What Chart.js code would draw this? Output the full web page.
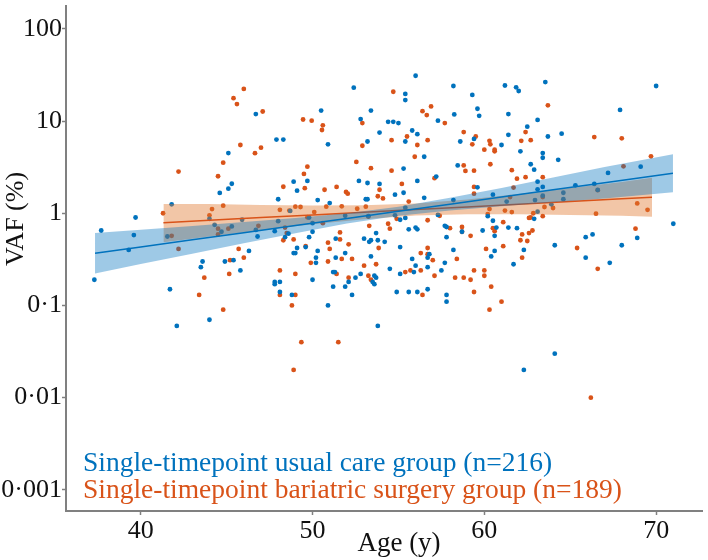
<!DOCTYPE html>
<html><head><meta charset="utf-8">
<script src="https://cdn.jsdelivr.net/npm/chart.js@4.4.1/dist/chart.umd.min.js"></script>
<style>html,body{margin:0;padding:0;background:#fff}#wrap{width:708px;height:560px}</style>
</head><body><div id="wrap"><canvas id="c" width="708" height="560"></canvas></div>
<script>
// ---- data ----
const seriesLabels = ['Single-timepoint usual care group (n=216)', 'Single-timepoint bariatric surgery group (n=189)'];
const xTitle = 'Age (y)';
const yTitle = 'VAF (%)';
const xTickValues = [40, 50, 60, 70];
const yTickValues = [0.001, 0.01, 0.1, 1, 10, 100];
const yTickLabels = ['0·001', '0·01', '0·1', '1', '10', '100'];

// [age, VAF %]
const usualCarePoints = [
[37.3,0.19],[37.7,0.65],[39.3,0.40],[39.6,0.58],[39.7,0.90],[41.8,1.25],[41.7,0.15],[42.1,0.06],[43.5,0.26],[43.6,0.30],[44.0,0.07],[44.9,0.30],[45.4,0.31],[45.8,0.24],[46.3,0.39],[46.8,0.56],[46.7,0.66],[47.8,0.18],[47.8,0.17],[48.1,0.18],[48.1,0.14],[48.8,0.13],[50.0,0.19],[50.9,0.10],[51.2,0.16],[51.9,0.16],[52.1,0.18],[52.3,0.13],[48.9,0.37],[49.0,0.37],[50.3,0.39],[50.2,0.33],[50.2,0.29],[51.2,0.23],[51.3,0.23],[51.9,0.37],[52.5,0.20],[52.8,0.22],[53.6,0.21],[53.7,0.20],[53.6,0.17],[53.5,0.18],[53.4,0.34],[53.8,0.06],[54.5,0.25],[54.9,0.14],[55.1,0.22],[55.9,0.23],[55.8,0.32],[56.0,0.27],[55.6,0.14],[56.1,0.14],[56.7,0.15],[56.7,0.26],[56.7,0.33],[57.5,0.24],[57.7,0.29],[57.8,0.13],[57.8,0.11],[58.2,0.40],[60.6,0.39],[60.4,0.34],[61.7,0.28],[62.3,0.40],[65.9,0.33],[67.3,0.29],[64.1,0.03],[62.3,0.02],[57.7,0.73],[57.8,0.71],[57.8,0.55],[56.8,0.36],[58.7,0.63],[59.9,0.65],[60.6,0.57],[60.7,0.70],[60.5,0.83],[60.2,0.93],[61.4,0.70],[61.9,0.69],[62.9,0.87],[64.1,0.45],[65.9,0.55],[66.3,0.59],[68.0,0.45],[68.9,0.54],[71.0,0.77],[48.4,0.55],[49.1,0.42],[49.8,0.55],[50.0,0.63],[49.8,0.90],[50.0,0.78],[51.35,0.53],[51.35,0.33],[51.9,0.94],[53.0,0.53],[53.3,0.49],[53.4,0.51],[53.8,0.51],[54.2,0.49],[53.25,0.93],[55.1,0.43],[55.1,0.85],[55.4,0.89],[55.6,0.67],[56.0,0.70],[56.1,0.67],[57.3,0.96],[53.7,0.61],[49.6,0.43],
[56.0,31],[52.4,23],[55.4,19.7],[55.4,16.9],[58.2,24],[59.3,19.2],[59.6,13.6],[59.7,11.4],[58.25,11.8],[57.3,10.1],[50.5,13],[52.8,10.5],[53.4,13],[54.4,9.8],[54.7,9.8],[55.0,9.5],[47.9,6.3],[48.3,6.3],[50.9,5.6],[53.9,7.5],[53.2,6.0],[55.8,7.9],[56.1,7.2],[55.4,6.0],[58.6,6.0],[59.4,6.4],[56.5,4.1],[58.45,3.3],[55.3,3.05],[57.2,2.5],[56.1,2.24],[52.7,2.24],[53.2,2.13],[53.9,2.08],[55.3,1.67],[54.8,1.59],[59.6,1.91],[50.3,1.39],[51.0,1.29],[53.1,1.42],[53.2,1.42],[56.5,1.47],[48.0,1.42],[49.7,2.24],[48.9,2.2],[49.1,1.76],[46.7,11.9],[45.1,4.5],[45.3,2.09],[45.1,1.85],[44.6,1.66],
[61.2,24.3],[61.85,23.2],[62.0,21.2],[63.55,26.5],[70.0,24],[67.9,13.2],[61.4,11.9],[63.1,10.3],[62.5,8.7],[61.4,7.1],[63.7,6.8],[64.5,7.3],[61.0,5.5],[62.1,4.7],[63.4,4.5],[63.4,4.0],[64.3,3.8],[62.7,3.4],[62.9,2.97],[69.1,3.2],[63.1,2.2],[63.1,1.82],[66.4,2.08],[66.6,1.79],[64.6,1.67],[62.95,1.39],[63.9,1.25],
[67.2,2.74],[63.4,1.93],[63.4,1.55],[65.3,2.01],[64.6,1.42],[60.5,1.59],[61.3,1.34],[63.1,1.04],[58.2,1.39],[55.4,1.15],[54.8,0.95],[48.0,0.82],[41.55,0.56],[44.0,0.87],[44.3,0.75],[44.7,0.63],[45.3,0.72],[45.9,0.85],[47.8,0.64],[48.6,0.60],[48.7,1.06]
];
const bariatricPoints = [
[46.0,22.3],[45.4,17.7],[45.6,15.3],[47.1,12.7],[45.8,5.5],[47.0,5.15],[46.65,4.48],[44.8,3.54],[42.2,2.83],[44.5,2.52],[44.8,1.21],[44.15,1.11],[41.3,1.0],[44.0,0.95],[42.2,0.41],[45.7,0.41],[43.4,0.13],[43.7,0.20],[44.8,0.09],[45.2,0.31],[45.15,0.22],[46.0,0.33],[48.1,0.13],[48.1,0.24],[49.0,0.22],[49.0,0.13],[48.8,0.10],[49.35,0.04],[48.9,0.02],[49.9,0.29],[50.9,0.30],[51.5,0.04],[51.4,0.22],[51.7,0.32],[52.3,0.32],[52.1,0.20],[53.0,0.27],[53.25,0.21],[53.4,0.19],[53.7,0.28],[55.4,0.23],[55.7,0.24],[56.4,0.13],[56.3,0.37],[56.7,0.36],[57.0,0.31],[57.1,0.21],[58.4,0.32],[58.3,0.20],[58.8,0.20],[59.2,0.19],[59.4,0.14],[59.4,0.24],[60.0,0.21],[60.0,0.24],[60.3,0.09],[60.4,0.16],[61.0,0.11],[62.2,0.33],[66.6,0.25],[66.2,0.01],[56.7,0.84],[57.4,0.94],[58.0,0.69],[56.7,0.42],[58.7,0.71],[59.2,0.57],[60.1,0.41],[60.5,0.69],[60.6,0.64],[61.1,0.80],[61.1,0.44],[62.2,0.59],[62.1,0.51],[62.5,0.50],[62.6,0.61],[62.8,0.65],[62.6,0.89],[63.4,0.93],[65.4,0.42],[68.8,0.68],[69.5,1.09],[66.5,0.99],[61.2,1.07],[63.5,1.17],[64.0,1.14],[48.3,0.51],[48.9,0.52],[49.6,0.44],[50.1,1.03],[50.6,0.78],[50.8,1.18],[50.9,0.48],[51.0,0.41],[51.6,0.62],[52.1,0.46],[53.3,0.73],[53.1,1.18],[53.85,0.42],[54.4,0.77],[54.5,0.68],[54.9,0.87],[56.3,0.24],[58.7,0.63],[51.6,0.52],
[54.7,20.8],[56.9,14.4],[56.4,12.8],[56.65,11.6],[57.7,9.5],[49.45,10.4],[49.95,10.1],[50.6,9.0],[50.55,8.0],[52.9,9.5],[52.9,5.4],[55.5,6.8],[54.6,6.2],[56.1,5.5],[56.7,6.2],[59.5,6.8],[58.8,7.6],[59.3,5.6],[60.0,4.9],[60.3,6.1],[55.95,4.1],[52.55,3.6],[53.4,3.08],[49.7,3.2],[49.5,2.67],[48.3,1.94],[49.55,1.87],[58.8,3.3],[58.9,2.88],[59.4,2.9],[54.6,2.9],[57.1,2.4],[55.2,2.08],[53.9,1.8],[50.7,1.8],[51.4,1.93],[51.95,1.70],[52.05,1.63],[59.4,1.93],[53.8,1.53],[54.1,1.45],[51.7,1.19],[49.3,1.17],[60.2,0.98],
[63.7,14.8],[62.4,7.6],[66.4,6.7],[68.0,6.5],[60.35,5.6],[62.15,6.1],[62.7,6.2],[60.6,4.9],[60.6,4.7],[60.35,3.4],[61.6,2.93],[69.7,4.15],[68.1,3.23],[61.9,2.37],[62.4,2.46],[63.4,2.46],[60.3,1.11],[62.7,0.9],[62.85,1.0],[68.9,1.28],
[61.7,1.90],[63.4,1.50],[66.6,1.78],[61.5,1.50],[61.6,1.03],[59.4,1.63],[55.6,1.34],[52.6,1.12],[49.0,1.18],[48.65,1.07],[48.1,1.09],[53.25,0.92],[49.7,0.905],[48.5,0.61],[41.8,0.57],[44.5,0.68],[45.1,0.68],[44.5,0.59],[46.85,0.73],[48.4,0.70]
];

// regression fits with confidence bands, read at several ages
const usualFitAge = [37.34, 40, 43, 46, 49, 52, 55, 58, 61, 64, 67, 70.98];
const usualFit    = [0.368, 0.431, 0.515, 0.616, 0.736, 0.880, 1.051, 1.256, 1.501, 1.794, 2.144, 2.716];
const usualHi     = [0.611, 0.664, 0.729, 0.803, 0.889, 1.00, 1.178, 1.47, 1.885, 2.439, 3.168, 4.364];
const usualLo     = [0.222, 0.281, 0.364, 0.472, 0.609, 0.773, 0.938, 1.073, 1.195, 1.319, 1.450, 1.690];
const bariFitAge  = [41.32, 44, 47, 50, 53, 56, 59, 62, 65, 68, 69.76];
const bariFit     = [0.791, 0.839, 0.898, 0.959, 1.026, 1.096, 1.172, 1.253, 1.340, 1.433, 1.491];
const bariHi      = [1.262, 1.257, 1.231, 1.215, 1.219, 1.274, 1.409, 1.613, 1.874, 2.188, 2.427];
const bariLo      = [0.485, 0.561, 0.654, 0.758, 0.863, 0.944, 0.975, 0.974, 0.959, 0.938, 0.916];

// ---- styling ----
const BLUE = '#0072BD';
const ORANGE = '#D95319';
const AXIS = '#808080';
const FONT = '"Liberation Serif", "Times New Roman", serif';

const pts = arr => arr.map(p => ({x: p[0], y: p[1]}));
const curve = (xs, ys) => xs.map((x, i) => ({x: x, y: ys[i]}));

const bandLine = (data, extra) => Object.assign({
  type: 'line', data: data, borderWidth: 0, pointRadius: 0, pointHoverRadius: 0,
  tension: 0, showLine: true, borderColor: 'rgba(0,0,0,0)'
}, extra);

const noPad = s => { s.paddingTop = 0; s.paddingBottom = 0; s.paddingLeft = 0; s.paddingRight = 0; };

const textPlugin = {
  id: 'texts',
  afterDraw(chart) {
    const ctx = chart.ctx;
    ctx.save();
    ctx.font = '27.5px ' + FONT;
    ctx.textBaseline = 'alphabetic';
    ctx.textAlign = 'left';
    ctx.fillStyle = BLUE;
    ctx.fillText(seriesLabels[0], 83, 471);
    ctx.fillStyle = ORANGE;
    ctx.fillText(seriesLabels[1], 83, 497.5);
    ctx.fillStyle = '#111';
    ctx.textAlign = 'center';
    ctx.font = '27px ' + FONT;
    ctx.fillText(xTitle, 399, 551);
    ctx.translate(22.5, 219);
    ctx.rotate(-Math.PI / 2);
    ctx.font = '26px ' + FONT;
    ctx.fillText(yTitle, 0, 0);
    ctx.restore();
  }
};

new Chart(document.getElementById('c'), {
  type: 'scatter',
  data: {
    datasets: [
      bandLine(curve(usualFitAge, usualFit), {label: 'usual fit', borderColor: BLUE, borderWidth: 1.5, order: 0}),
      bandLine(curve(usualFitAge, usualHi), {label: 'usual hi', fill: '+1', backgroundColor: 'rgba(0,114,189,0.38)', order: 1}),
      bandLine(curve(usualFitAge, usualLo), {label: 'usual lo', order: 1}),
      bandLine(curve(bariFitAge, bariFit), {label: 'bariatric fit', borderColor: ORANGE, borderWidth: 1.5, order: 2}),
      bandLine(curve(bariFitAge, bariHi), {label: 'bariatric hi', fill: '+1', backgroundColor: 'rgba(225,120,45,0.42)', order: 3}),
      bandLine(curve(bariFitAge, bariLo), {label: 'bariatric lo', order: 3}),
      {label: seriesLabels[0], data: pts(usualCarePoints), backgroundColor: BLUE, borderWidth: 0, pointRadius: 2.4, order: 4},
      {label: seriesLabels[1], data: pts(bariatricPoints), backgroundColor: ORANGE, borderWidth: 0, pointRadius: 2.4, order: 5}
    ]
  },
  options: {
    responsive: false,
    animation: false,
    devicePixelRatio: 1,
    events: [],
    layout: {padding: {top: 6, right: 6, left: 0, bottom: 0}},
    plugins: {legend: {display: false}, tooltip: {enabled: false}},
    scales: {
      x: {
        type: 'linear', min: 35.65, max: 72.67,
        afterBuildTicks: s => { s.ticks = xTickValues.map(v => ({value: v})); },
        afterFit: s => { s.height = 49; noPad(s); },
        grid: {display: true, drawOnChartArea: false, drawTicks: true, tickLength: 4, tickColor: AXIS, tickWidth: 1.5},
        border: {display: true, color: AXIS, width: 2},
        ticks: {font: {family: FONT, size: 26}, color: '#111', padding: 1, maxRotation: 0, autoSkip: false}
      },
      y: {
        type: 'logarithmic', min: 0.00059, max: 177,
        afterBuildTicks: s => { s.ticks = yTickValues.map(v => ({value: v})); },
        afterFit: s => { s.width = 66; noPad(s); },
        grid: {display: true, drawOnChartArea: false, drawTicks: true, tickLength: 4, tickColor: AXIS, tickWidth: 1.5},
        border: {display: true, color: AXIS, width: 2},
        ticks: {font: {family: FONT, size: 26}, color: '#111', padding: 0, autoSkip: false,
                callback: (v, i) => yTickLabels[i]}
      }
    }
  },
  plugins: [textPlugin]
});
</script></body></html>
